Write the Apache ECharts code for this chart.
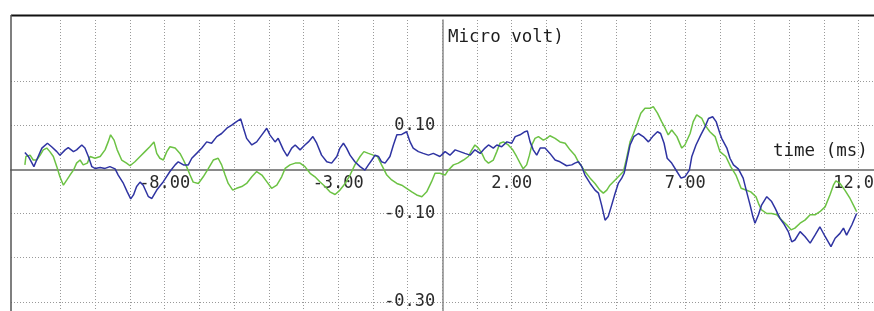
<!DOCTYPE html>
<html><head><meta charset="utf-8">
<script src="https://cdn.jsdelivr.net/npm/echarts@6/dist/echarts.min.js"></script>
<style>html,body{margin:0;padding:0;background:#fff}#c{width:874px;height:311px}</style>
</head><body><div id="c"></div>
<script>
const bluePoints = [
[-12.03,0.038],[-11.93,0.029],[-11.77,0.006],[-11.69,0.021],[-11.54,0.048],[-11.38,0.059],[-11.26,0.051],[-11.11,0.040],[-11.02,0.032],[-10.87,0.044],
[-10.78,0.049],[-10.63,0.040],[-10.54,0.044],[-10.39,0.055],[-10.30,0.048],[-10.20,0.029],[-10.10,0.006],[-10.01,0.002],[-9.86,0.004],[-9.72,0.002],
[-9.58,0.006],[-9.43,0.001],[-9.34,-0.013],[-9.19,-0.032],[-9.08,-0.051],[-8.98,-0.067],[-8.90,-0.058],[-8.81,-0.039],[-8.71,-0.029],[-8.62,-0.036],
[-8.47,-0.062],[-8.37,-0.066],[-8.23,-0.047],[-8.04,-0.028],[-7.85,-0.005],[-7.70,0.010],[-7.61,0.017],[-7.46,0.010],[-7.32,0.010],[-7.22,0.025],
[-7.08,0.036],[-6.93,0.048],[-6.79,0.062],[-6.65,0.059],[-6.50,0.074],[-6.36,0.081],[-6.21,0.093],[-6.07,0.100],[-5.93,0.108],[-5.81,0.114],
[-5.73,0.093],[-5.64,0.070],[-5.49,0.055],[-5.35,0.062],[-5.20,0.078],[-5.06,0.093],[-4.97,0.078],[-4.82,0.062],[-4.73,0.070],[-4.58,0.044],
[-4.47,0.030],[-4.34,0.048],[-4.24,0.055],[-4.10,0.044],[-3.96,0.055],[-3.86,0.062],[-3.73,0.074],[-3.62,0.059],[-3.48,0.032],[-3.33,0.017],
[-3.19,0.014],[-3.04,0.029],[-2.95,0.048],[-2.85,0.059],[-2.76,0.048],[-2.66,0.032],[-2.52,0.017],[-2.37,0.006],[-2.23,-0.002],[-2.13,0.010],
[-2.03,0.021],[-1.94,0.032],[-1.84,0.029],[-1.75,0.017],[-1.65,0.014],[-1.51,0.029],[-1.41,0.055],[-1.31,0.078],[-1.17,0.079],[-1.03,0.085],
[-0.93,0.062],[-0.84,0.048],[-0.69,0.040],[-0.55,0.036],[-0.40,0.032],[-0.26,0.036],[-0.07,0.029],[0.08,0.040],[0.22,0.032],[0.37,0.044],
[0.51,0.040],[0.65,0.036],[0.80,0.032],[0.94,0.044],[1.09,0.036],[1.23,0.048],[1.33,0.055],[1.47,0.048],[1.57,0.055],[1.71,0.051],
[1.86,0.062],[2.00,0.059],[2.10,0.074],[2.24,0.078],[2.38,0.085],[2.45,0.087],[2.53,0.062],[2.62,0.044],[2.72,0.032],[2.82,0.048],
[2.96,0.048],[3.10,0.036],[3.25,0.021],[3.39,0.017],[3.58,0.008],[3.73,0.010],[3.82,0.014],[3.92,0.017],[4.02,0.006],[4.11,-0.013],
[4.26,-0.032],[4.40,-0.047],[4.50,-0.054],[4.59,-0.081],[4.69,-0.115],[4.78,-0.107],[4.88,-0.081],[4.98,-0.054],[5.07,-0.032],[5.17,-0.020],
[5.24,-0.009],[5.33,0.025],[5.41,0.055],[5.52,0.074],[5.65,0.081],[5.79,0.074],[5.94,0.062],[6.06,0.074],[6.20,0.085],[6.29,0.081],
[6.39,0.059],[6.48,0.025],[6.61,0.014],[6.76,-0.005],[6.88,-0.020],[6.99,-0.017],[7.12,-0.002],[7.19,0.029],[7.31,0.055],[7.45,0.078],
[7.57,0.096],[7.67,0.115],[7.79,0.119],[7.89,0.108],[8.00,0.081],[8.05,0.070],[8.20,0.048],[8.29,0.025],[8.39,0.010],[8.53,0.001],
[8.67,-0.020],[8.77,-0.051],[8.87,-0.081],[8.95,-0.107],[9.01,-0.122],[9.11,-0.103],[9.20,-0.081],[9.35,-0.062],[9.49,-0.073],[9.59,-0.088],
[9.73,-0.111],[9.83,-0.122],[9.97,-0.141],[10.07,-0.164],[10.16,-0.160],[10.31,-0.141],[10.45,-0.152],[10.60,-0.167],[10.74,-0.149],[10.88,-0.130],
[11.03,-0.152],[11.20,-0.175],[11.32,-0.156],[11.46,-0.145],[11.56,-0.133],[11.65,-0.149],[11.80,-0.126],[11.94,-0.100]
];
const greenPoints = [
[-12.03,0.010],[-12.00,0.029],[-11.88,0.032],[-11.79,0.021],[-11.69,0.021],[-11.59,0.032],[-11.50,0.044],[-11.40,0.048],[-11.31,0.040],[-11.21,0.029],
[-11.11,0.006],[-11.02,-0.017],[-10.92,-0.036],[-10.82,-0.024],[-10.73,-0.013],[-10.63,-0.002],[-10.54,0.014],[-10.44,0.021],[-10.35,0.010],[-10.23,0.014],
[-10.15,0.029],[-10.01,0.025],[-9.86,0.029],[-9.72,0.044],[-9.63,0.062],[-9.56,0.078],[-9.46,0.066],[-9.37,0.044],[-9.24,0.021],[-9.10,0.014],
[-9.00,0.008],[-8.86,0.017],[-8.71,0.029],[-8.57,0.040],[-8.43,0.051],[-8.31,0.062],[-8.23,0.036],[-8.14,0.025],[-8.04,0.021],[-7.94,0.040],
[-7.85,0.051],[-7.70,0.048],[-7.56,0.036],[-7.46,0.021],[-7.37,0.006],[-7.27,-0.013],[-7.18,-0.029],[-7.03,-0.032],[-6.89,-0.017],[-6.74,0.002],
[-6.60,0.021],[-6.46,0.025],[-6.36,0.010],[-6.26,-0.013],[-6.17,-0.032],[-6.04,-0.047],[-5.93,-0.043],[-5.78,-0.039],[-5.64,-0.032],[-5.49,-0.017],
[-5.35,-0.005],[-5.20,-0.013],[-5.06,-0.028],[-4.92,-0.043],[-4.77,-0.036],[-4.63,-0.017],[-4.53,0.002],[-4.39,0.010],[-4.24,0.014],[-4.10,0.014],
[-3.96,0.006],[-3.81,-0.009],[-3.67,-0.017],[-3.53,-0.028],[-3.38,-0.039],[-3.24,-0.051],[-3.09,-0.057],[-2.95,-0.047],[-2.80,-0.032],[-2.66,-0.013],
[-2.52,0.010],[-2.37,0.029],[-2.26,0.040],[-2.13,0.036],[-1.99,0.032],[-1.87,0.029],[-1.75,0.010],[-1.60,-0.013],[-1.46,-0.024],[-1.31,-0.032],
[-1.17,-0.036],[-1.03,-0.043],[-0.88,-0.051],[-0.74,-0.058],[-0.59,-0.062],[-0.45,-0.051],[-0.31,-0.028],[-0.21,-0.009],[-0.07,-0.009],[0.08,-0.013],
[0.17,-0.002],[0.32,0.010],[0.46,0.014],[0.61,0.021],[0.75,0.029],[0.85,0.044],[0.94,0.055],[1.04,0.048],[1.14,0.036],[1.23,0.021],
[1.33,0.014],[1.47,0.021],[1.57,0.040],[1.66,0.059],[1.76,0.062],[1.90,0.055],[2.03,0.044],[2.14,0.029],[2.24,0.014],[2.33,0.001],
[2.43,0.010],[2.51,0.032],[2.58,0.055],[2.67,0.070],[2.77,0.074],[2.91,0.066],[3.01,0.070],[3.10,0.076],[3.25,0.070],[3.39,0.062],
[3.54,0.059],[3.68,0.044],[3.82,0.032],[3.92,0.017],[4.02,0.006],[4.11,-0.005],[4.26,-0.020],[4.40,-0.032],[4.54,-0.047],[4.64,-0.054],
[4.74,-0.047],[4.83,-0.036],[4.98,-0.024],[5.12,-0.013],[5.22,-0.005],[5.31,0.025],[5.41,0.062],[5.51,0.081],[5.60,0.100],[5.72,0.127],
[5.84,0.138],[5.99,0.138],[6.08,0.142],[6.20,0.127],[6.32,0.108],[6.42,0.093],[6.51,0.078],[6.61,0.089],[6.76,0.074],[6.90,0.048],
[6.99,0.055],[7.14,0.081],[7.23,0.108],[7.33,0.123],[7.48,0.115],[7.57,0.100],[7.71,0.085],[7.86,0.074],[8.00,0.040],[8.17,0.029],
[8.31,0.006],[8.46,-0.013],[8.61,-0.043],[8.75,-0.047],[8.89,-0.051],[9.04,-0.062],[9.11,-0.077],[9.20,-0.092],[9.35,-0.100],[9.49,-0.100],
[9.64,-0.103],[9.78,-0.115],[9.93,-0.126],[10.05,-0.137],[10.16,-0.133],[10.31,-0.122],[10.45,-0.115],[10.60,-0.103],[10.74,-0.103],[10.88,-0.096],
[11.03,-0.085],[11.17,-0.058],[11.27,-0.036],[11.34,-0.026],[11.46,-0.032],[11.60,-0.047],[11.75,-0.066],[11.89,-0.088],[11.94,-0.096]
];
const xGridTicks = [-11,-10,-9,-8,-7,-6,-5,-4,-3,-2,-1,0,1,2,3,4,5,6,7,8,9,10,11,12];
const xLabelTicks = [-8,-3,2,7,12];
const yGridTicks = [-0.3,-0.2,-0.1,0,0.1,0.2];
const yLabelTicks = [-0.3,-0.1,0.1];
const yAxisTitle = 'Micro volt)';
const xAxisTitle = 'time (ms)';

const chart = echarts.init(document.getElementById('c'), null, {renderer: 'canvas'});
const mono = 'DejaVu Sans Mono';
const gridLine = {show: true, lineStyle: {color: '#999', type: [1, 2], width: 1}};
chart.setOption({
  animation: false,
  grid: {left: 11, right: 0, top: 20, bottom: 0, containLabel: false, outerBoundsMode: 'none'},
  xAxis: {
    type: 'value', min: -12.43, max: 12.44, position: 'bottom', offset: -141.7,
    axisLine: {onZero: false, lineStyle: {color: '#8a8a8a', width: 2}},
    axisTick: {show: false, customValues: xGridTicks},
    axisLabel: {customValues: xLabelTicks, formatter: v => v.toFixed(2), margin: 6,
      fontFamily: mono, fontSize: 17, color: '#2a2a2a'},
    splitLine: gridLine
  },
  yAxis: {
    type: 'value', min: -0.3206, max: 0.3378, position: 'left', offset: -431.3,
    axisLine: {onZero: false, lineStyle: {color: '#8a8a8a', width: 1.5}},
    axisTick: {show: false, customValues: yGridTicks},
    axisLabel: {customValues: yLabelTicks, formatter: v => v.toFixed(2), margin: 7,
      fontFamily: mono, fontSize: 17, color: '#2a2a2a'},
    splitLine: gridLine
  },
  graphic: [
    {type: 'line', shape: {x1: 11, y1: 15.5, x2: 874, y2: 15.5}, style: {stroke: '#111', lineWidth: 2}, z: 100},
    {type: 'line', shape: {x1: 11, y1: 15, x2: 11, y2: 311}, style: {stroke: '#555', lineWidth: 1.5}, z: 100},
    {type: 'text', left: 448, top: 28, style: {text: yAxisTitle, font: '17.5px "DejaVu Sans Mono"', fill: '#1e1e1e'}, z: 100},
    {type: 'text', left: 773, top: 142, style: {text: xAxisTitle, font: '17.5px "DejaVu Sans Mono"', fill: '#1e1e1e'}, z: 100}
  ],
  series: [
    {type: 'line', data: greenPoints, showSymbol: false, symbol: 'none', lineStyle: {color: '#6cc244', width: 1.5}, z: 3},
    {type: 'line', data: bluePoints, showSymbol: false, symbol: 'none', lineStyle: {color: '#2f34a2', width: 1.5}, z: 4}
  ]
});
</script></body></html>
